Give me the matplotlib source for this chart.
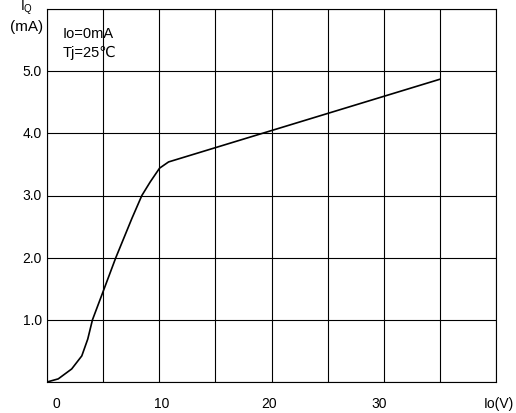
import matplotlib.pyplot as plt

plt.rcParams['font.family'] = ['Liberation Sans', 'DejaVu Sans']

# Curva IQ x Vin
vin = [0, 1.0, 2.2, 3.1, 3.63, 4.05, 5.03, 6.13, 7.56, 8.45, 9.2, 10.03, 10.83, 35.0]
iq = [0, 0.05, 0.21, 0.42, 0.69, 1.0, 1.47, 2.0, 2.63, 3.0, 3.22, 3.44, 3.54, 4.87]

xticks = [0, 10, 20, 30]
yticks = [1.0, 2.0, 3.0, 4.0, 5.0]
ytick_labels = ['1.0', '2.0', '3.0', '4.0', '5.0']

W, H = 516, 414
fig = plt.figure(figsize=(W / 100, H / 100), dpi=100)
ax = fig.add_axes([47 / W, 1 - 383 / H, (496 - 47) / W, (383 - 10) / H])

ax.plot(vin, iq, color='black', linewidth=1.2, zorder=3)

ax.set_xlim(0, 40)
ax.set_ylim(0, 6)
ax.set_xticks(range(0, 41, 5))
ax.set_yticks(range(0, 7))
ax.grid(True, color='black', linewidth=0.8)
ax.tick_params(length=0, labelbottom=False, labelleft=False)
for s in ax.spines.values():
    s.set_linewidth(0.8)

# rótulos do eixo x levemente deslocados como no original
x_shift = [0.8, 0.2, -0.2, -0.4]
for x, dx in zip(xticks, x_shift):
    ax.text(x + dx, -0.33, str(x), ha='center', va='center', fontsize=10)
for y, lab in zip(yticks, ytick_labels):
    ax.text(-0.47, y, lab, ha='right', va='center', fontsize=10)
ax.text(40.25, -0.33, 'Io(V)', ha='center', va='center', fontsize=10)

fig.text(27 / W, 1 - 8 / H, r'$\mathregular{I_Q}$', ha='center', va='center', fontsize=10)
fig.text(27 / W, 1 - 27 / H, '(mA)', ha='center', va='center', fontsize=11)

ax.text(1.43, 5.62, 'Io=0mA', ha='left', va='center', fontsize=10.5)
ax.text(1.43, 5.31, 'Tj=25℃', ha='left', va='center', fontsize=10.5)

fig.savefig('out.png', dpi=100)
